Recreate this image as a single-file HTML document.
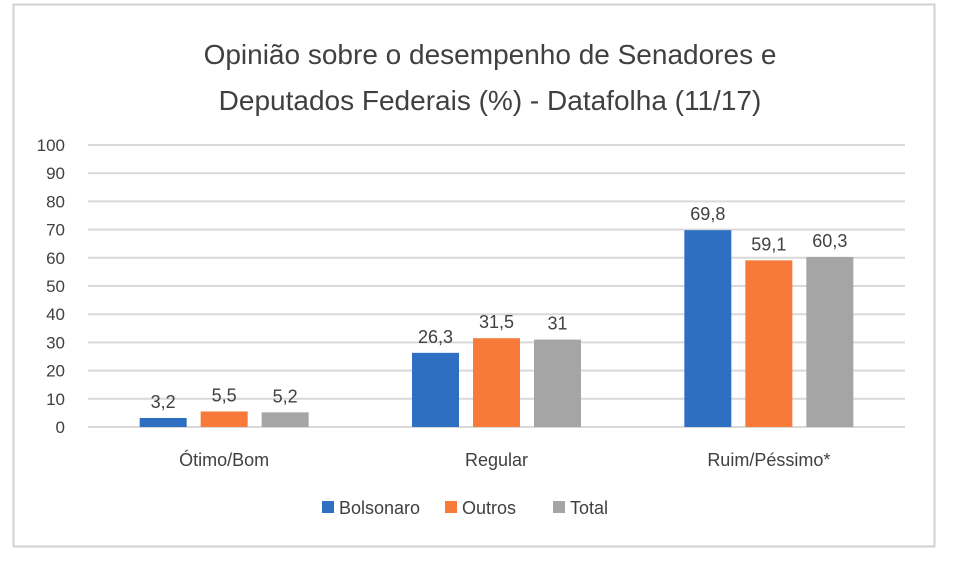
<!DOCTYPE html>
<html><head><meta charset="utf-8"><style>
body{margin:0;background:#fff;width:980px;height:574px;overflow:hidden}
svg text{font-family:"Liberation Sans",sans-serif;fill:#404040}
</style></head><body>
<svg width="980" height="574">
<rect x="13.5" y="4.5" width="921" height="542" fill="#fff" stroke="#d0d0d0" stroke-width="2"/>
<text x="490" y="64" text-anchor="middle" font-size="28">Opinião sobre o desempenho de Senadores e</text>
<text x="490" y="110" text-anchor="middle" font-size="28">Deputados Federais (%) - Datafolha (11/17)</text>
<g id="grid"></g><g id="bars"></g><g id="labels"></g>
<g>
<rect x="322" y="501" width="12" height="12" fill="#2e6fc2"/>
<text x="339" y="514" font-size="18">Bolsonaro</text>
<rect x="445" y="501" width="12" height="12" fill="#f77a3a"/>
<text x="462" y="514" font-size="18">Outros</text>
<rect x="553" y="501" width="12" height="12" fill="#a5a5a5"/>
<text x="570" y="514" font-size="18">Total</text>
</g>
</svg>
<script>
const categories=["Ótimo/Bom","Regular","Ruim/Péssimo*"];
const bolsonaro=[3.2,26.3,69.8];
const outros=[5.5,31.5,59.1];
const total=[5.2,31,60.3];
const valueLabels=[["3,2","26,3","69,8"],["5,5","31,5","59,1"],["5,2","31","60,3"]];
const ticks=[0,10,20,30,40,50,60,70,80,90,100];
const seriesNames=["bolsonaro","outros","total"];
const colors=["#2e6fc2","#f77a3a","#a5a5a5"];
const NS="http://www.w3.org/2000/svg";
const x0=88,x1=905,y0=427,y100=145;
const y=v=>y0-(v/100)*(y0-y100);
const band=(x1-x0)/categories.length;
const xc=i=>x0+band*(i+0.5);
function mk(t,a,p){const e=document.createElementNS(NS,t);for(const k in a)e.setAttribute(k,a[k]);p.appendChild(e);return e;}
const grid=document.getElementById('grid'),bars=document.getElementById('bars'),labels=document.getElementById('labels');
ticks.forEach(t=>{
 const l=mk('line',{x1:x0,x2:x1,y1:y(t),y2:y(t),stroke:'#d9d9d9','stroke-width':2},grid);
 
 
 const tx=mk('text',{x:65,y:y(t)+6,'text-anchor':'end','font-size':17},grid);
 tx.textContent=t;
 
 
});
const series=[bolsonaro,outros,total];
const bw=47,step=61;
categories.forEach((c,i)=>{
 series.forEach((s,j)=>{
  const bx=xc(i)+(j-1)*step-bw/2;
  const r=mk('rect',{x:bx,y:y(s[i]),width:bw,height:y0-y(s[i]),fill:colors[j]},bars);
  
  
  const t=mk('text',{x:bx+bw/2,y:y(s[i])-10,'text-anchor':'middle','font-size':18},labels);
  t.textContent=valueLabels[j][i];
  
  
 });
 const ct=mk('text',{x:xc(i),y:466,'text-anchor':'middle','font-size':18},labels);
 ct.textContent=c;
 
 
});
</script>
</body></html>
